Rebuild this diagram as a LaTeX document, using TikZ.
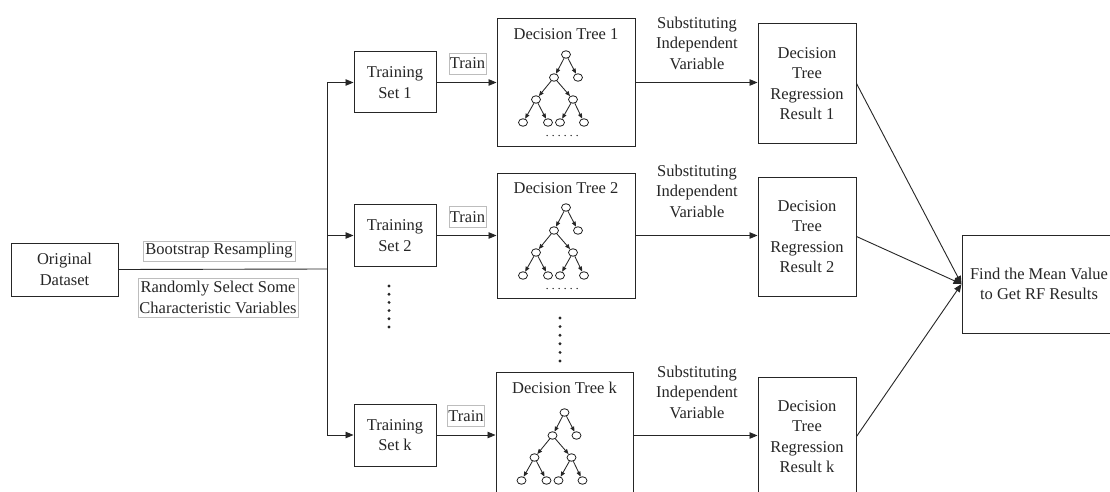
\documentclass[tikz,border=0pt]{standalone}
\usepackage{fontspec}
\setmainfont{Liberation Serif}
\usetikzlibrary{arrows.meta,shapes.geometric,calc}
\definecolor{ink}{HTML}{262626}
\definecolor{tagline}{HTML}{BDBDBD}

\tikzset{
  dtree/.pic={
    \node[leaf] (-a) at (0,0) {};
    \node[leaf] (-b) at (-12,23) {};
    \node[leaf] (-c) at (12,23) {};
    \node[leaf] (-d) at (-30,45) {};
    \node[leaf] (-e) at (7,45) {};
    \node[leaf] (-f) at (-43,68) {};
    \node[leaf] (-g) at (-18,68) {};
    \node[leaf] (-h) at (-6,68) {};
    \node[leaf] (-i) at (18,68) {};
    \draw[twig] (-a) -- (-b);
    \draw[twig] (-a) -- (-c);
    \draw[twig] (-b) -- (-d);
    \draw[twig] (-b) -- (-e);
    \draw[twig] (-d) -- (-f);
    \draw[twig] (-d) -- (-g);
    \draw[twig] (-e) -- (-h);
    \draw[twig] (-e) -- (-i);
    \foreach \k in {0,...,5} \fill[ink] (-19+6*\k,81) circle (0.75);
  }
}

\begin{document}
\begin{tikzpicture}[x=1pt,y=-1pt,
  every node/.style={font=\fontsize{16.5}{20.5}\selectfont, text=ink},
  box/.style={draw=ink, line width=1pt, align=center, inner sep=0pt},
  tag/.style={draw=tagline, line width=0.5pt, inner sep=0pt, align=center},
  flow/.style={draw=ink, line width=0.9pt, -{Triangle[length=8pt,width=6.5pt]}},
  plain/.style={draw=ink, line width=0.9pt},
  leaf/.style={ellipse, draw=ink, line width=0.85pt, minimum width=9, minimum height=7.5, inner sep=0pt},
  twig/.style={draw=ink, line width=0.85pt, -{Triangle[length=5pt,width=4pt]}},
]
\useasboundingbox[fill=white] (0,0) rectangle (1110,492);

% source data
\node[box, minimum width=107, minimum height=53] (orig) at (64.5,269.5) {Original\\Dataset};
\node[tag, minimum width=152, minimum height=20] (boot) at (219,251) {Bootstrap Resampling};
\node[tag, minimum width=160, minimum height=39] (rand) at (218,297.5) {Randomly Select Some\\Characteristic Variables};
\coordinate (split) at (327,269);

% training sets
\node[box, minimum width=82, minimum height=61] (ts1) at (395,82.5) {Training\\Set 1};
\node[box, minimum width=82, minimum height=62] (ts2) at (395,235.5) {Training\\Set 2};
\node[box, minimum width=82, minimum height=62] (tsk) at (395,435) {Training\\Set k};

% decision trees
\node[box, minimum width=138, minimum height=127] (dt1) at (566,82.5) {};
\node[box, minimum width=138, minimum height=125] (dt2) at (566,235.5) {};
\node[box, minimum width=137, minimum height=127] (dtk) at (564.5,435.5) {};
\node (dt1t) at ($(dt1.north)+(0,16)$) {Decision Tree 1};
\node (dt2t) at ($(dt2.north)+(0,16)$) {Decision Tree 2};
\node (dtkt) at ($(dtk.north)+(0,16)$) {Decision Tree k};
\pic (t1) at ($(dt1.north)+(0,36)$) {dtree};
\pic (t2) at ($(dt2.north)+(0,35)$) {dtree};
\pic (tk) at ($(dtk.north)+(0,41)$) {dtree};

% regression results
\node[box, minimum width=98, minimum height=119] (r1) at (807,83.5) {Decision\\Tree\\Regression\\Result 1};
\node[box, minimum width=98, minimum height=119] (r2) at (807,236.5) {Decision\\Tree\\Regression\\Result 2};
\node[box, minimum width=98, minimum height=119] (rk) at (807,436.5) {Decision\\Tree\\Regression\\Result k};

% aggregation
\node[box, minimum width=154, minimum height=98] (fin) at (1039,284) {Find the Mean Value\\to Get RF Results};

% labels on the connectors
\node[tag, minimum width=37, minimum height=21] (tr1) at (467.5,63.5) {Train};
\node[tag, minimum width=37, minimum height=21] (tr2) at (467.5,217) {Train};
\node[tag, minimum width=37, minimum height=21] (trk) at (466,416) {Train};
\node[align=center] (s1) at (697,43) {Substituting\\Independent\\Variable};
\node[align=center] (s2) at (697,191) {Substituting\\Independent\\Variable};
\node[align=center] (sk) at (697,392) {Substituting\\Independent\\Variable};

% connectors
\draw[plain] (orig.east) -- (split);
\draw[flow] (split) |- (ts1.west);
\draw[flow] (split) |- (ts2.west);
\draw[flow] (split) |- (tsk.west);
\draw[flow] (ts1.east) -- (ts1.east -| dt1.west);
\draw[flow] (ts2.east) -- (ts2.east -| dt2.west);
\draw[flow] (tsk.east) -- (tsk.east -| dtk.west);
\draw[flow] (dt1.east) -- (dt1.east -| r1.west);
\draw[flow] (dt2.east) -- (dt2.east -| r2.west);
\draw[flow] (dtk.east) -- (dtk.east -| rk.west);
\draw[flow] (r1.east) -- (fin.west);
\draw[flow] (r2.east) -- (fin.west);
\draw[flow] (rk.east) -- (fin.west);

% ellipsis dots
\foreach \k in {0,...,5} \fill[ink] (389,286+8.2*\k) circle (1.6);
\foreach \k in {0,...,5} \fill[ink] (560,318+8.6*\k) circle (1.6);
\end{tikzpicture}
\end{document}
